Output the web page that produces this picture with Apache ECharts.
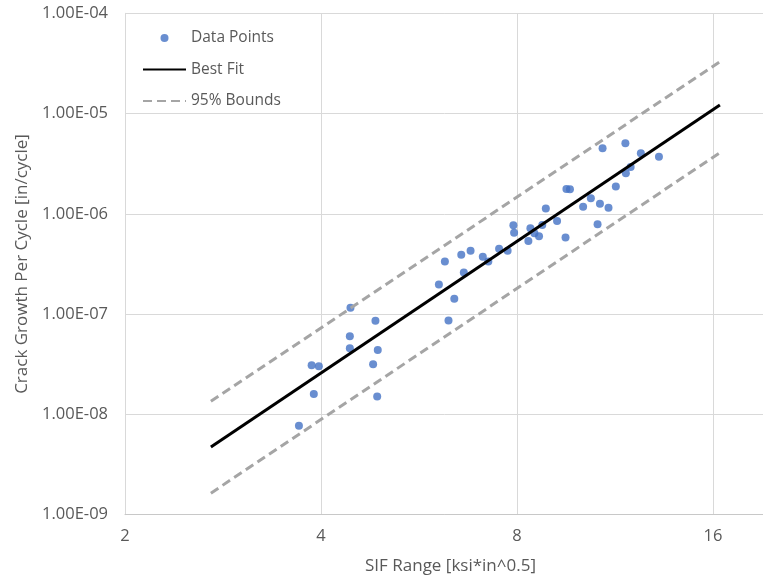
<!DOCTYPE html>
<html>
<head>
<meta charset="utf-8">
<script src="https://cdn.jsdelivr.net/npm/echarts@6/dist/echarts.min.js"></script>
<style>
html,body{margin:0;padding:0;background:#fff;overflow:hidden;}
#chart{width:763px;height:578px;}
</style>
</head>
<body>
<div id="chart"></div>
<script>
// SIF range (ksi*in^0.5) for each measured point
var sifRange = [3.70, 3.87, 3.97, 3.90, 4.44, 4.43, 4.43, 4.85, 4.89, 4.81, 4.88,
  6.07, 6.20, 6.28, 6.41, 6.57, 6.63, 6.79, 7.09, 7.23, 7.51, 7.74, 7.90, 7.92,
  8.39, 8.33, 8.51, 8.65, 8.75, 8.86, 9.22, 9.50, 9.53, 9.65, 10.11, 10.39, 10.64,
  10.73, 11.06, 10.83, 11.35, 11.74, 11.76, 11.96, 12.40, 13.22];
// crack growth per cycle (in/cycle) for each measured point
var growthRate = [7.73e-9, 3.09e-8, 3.02e-8, 1.60e-8, 1.16e-7, 6.02e-8, 4.57e-8, 8.61e-8, 4.40e-8, 3.17e-8, 1.51e-8,
  1.98e-7, 3.34e-7, 8.65e-8, 1.42e-7, 3.92e-7, 2.60e-7, 4.29e-7, 3.74e-7, 3.34e-7, 4.49e-7, 4.29e-7, 7.70e-7, 6.49e-7,
  7.18e-7, 5.37e-7, 6.41e-7, 5.98e-7, 7.75e-7, 1.13e-6, 8.50e-7, 5.82e-7, 1.77e-6, 1.76e-6, 1.18e-6, 1.43e-6, 7.88e-7,
  1.26e-6, 1.15e-6, 4.51e-6, 1.87e-6, 5.06e-6, 2.54e-6, 2.93e-6, 4.02e-6, 3.72e-6];
// fit lines
var fitX = [2.71, 16.4];
var bestFitY = [4.73e-9, 1.22e-5];
var upperBoundY = [1.35e-8, 3.29e-5];
var lowerBoundY = [1.64e-9, 4.07e-6];

var xAxisMin = 2, xAxisMax = 20;
var yAxisMin = 1e-9, yAxisMax = 1e-4;

function pairs(xs, ys) {
  var out = [];
  for (var i = 0; i < xs.length; i++) out.push([xs[i], ys[i]]);
  return out;
}
function sci(v) {
  var e = Math.floor(Math.log10(v) + 1e-9);
  var m = v / Math.pow(10, e);
  return m.toFixed(2) + 'E' + (e < 0 ? '-' : '+') + String(Math.abs(e)).padStart(2, '0');
}

var font = '"Open Sans", "Noto Sans", sans-serif';
var txt = '#595959';
var hiddenSymbol = {color: 'rgba(0,0,0,0)', borderWidth: 0, opacity: 0};
var chart = echarts.init(document.getElementById('chart'), null, {renderer: 'canvas'});
chart.setOption({
  animation: false,
  backgroundColor: '#ffffff',
  textStyle: {fontFamily: font},
  grid: {left: 125, top: 13.3, width: 651, height: 501.4, outerBoundsMode: 'none', containLabel: false},
  legend: {
    orient: 'vertical',
    left: 137,
    top: 25,
    itemWidth: 43,
    itemHeight: 8,
    itemGap: 15.5,
    itemTextGap: 0,
    textStyle: {fontSize: 15.5, color: txt, fontFamily: font, lineHeight: 15},
    data: [
      {name: 'Data Points', icon: 'circle'},
      {name: 'Best Fit', itemStyle: hiddenSymbol},
      {name: '95% Bounds', itemStyle: hiddenSymbol}
    ]
  },
  xAxis: {
    type: 'log',
    logBase: 2,
    min: xAxisMin,
    max: xAxisMax,
    name: 'SIF Range [ksi*in^0.5]',
    nameLocation: 'middle',
    nameGap: 43,
    nameTextStyle: {fontSize: 17, color: txt, fontFamily: font},
    axisLine: {show: true, lineStyle: {color: '#C8C8C8', width: 1}},
    axisTick: {show: false},
    axisLabel: {fontSize: 16.5, color: txt, margin: 13, showMaxLabel: false, fontFamily: font},
    splitLine: {show: true, lineStyle: {color: '#D9D9D9', width: 1}}
  },
  yAxis: {
    type: 'log',
    logBase: 10,
    min: yAxisMin,
    max: yAxisMax,
    name: 'Crack Growth Per Cycle [in/cycle]',
    nameLocation: 'middle',
    nameGap: 94,
    nameTextStyle: {fontSize: 17, color: txt, fontFamily: font},
    axisLine: {show: true, lineStyle: {color: '#D9D9D9', width: 1}},
    axisTick: {show: false},
    axisLabel: {fontSize: 16.5, color: txt, margin: 17, formatter: sci, fontFamily: font},
    splitLine: {show: true, lineStyle: {color: '#D9D9D9', width: 1}}
  },
  series: [
    {
      name: 'Data Points',
      type: 'scatter',
      symbol: 'circle',
      symbolSize: 8,
      itemStyle: {color: '#4472C4'},
      data: pairs(sifRange, growthRate),
      z: 2
    },
    {
      name: 'Best Fit',
      type: 'line',
      showSymbol: false,
      symbol: 'none',
      lineStyle: {color: '#000000', width: 3},
      itemStyle: {color: '#000000'},
      data: pairs(fitX, bestFitY),
      z: 3
    },
    {
      name: '95% Bounds',
      type: 'line',
      showSymbol: false,
      symbol: 'none',
      lineStyle: {color: '#A5A5A5', width: 3, type: [9, 5]},
      itemStyle: {color: '#A5A5A5'},
      data: pairs(fitX, upperBoundY),
      z: 3
    },
    {
      name: '95% Bounds',
      type: 'line',
      showSymbol: false,
      symbol: 'none',
      lineStyle: {color: '#A5A5A5', width: 3, type: [9, 5]},
      itemStyle: {color: '#A5A5A5'},
      data: pairs(fitX, lowerBoundY),
      z: 3
    }
  ]
});
</script>
</body>
</html>
